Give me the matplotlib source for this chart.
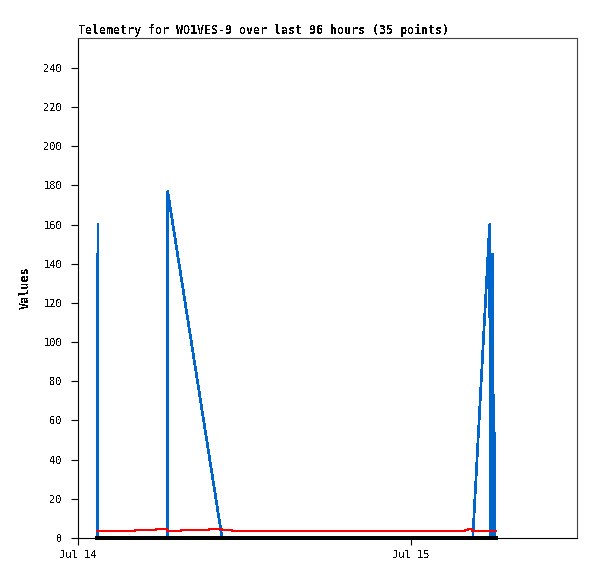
import matplotlib
matplotlib.use('Agg')
import matplotlib.pyplot as plt
import matplotlib.dates as mdates
from datetime import datetime, timedelta

plt.rcParams['font.family'] = ['DejaVu Sans Mono']
plt.rcParams['text.antialiased'] = False

start = datetime(2024, 7, 14)

# hours after Jul 14 00:00
blue_hours = [1.40, 1.40, 1.48, 1.48, 6.50, 6.50, 10.42, 28.49, 29.70,
              29.76, 29.81, 29.86, 29.92, 29.96, 30.02, 30.06, 30.17]
blue_values = [0, 80, 160, 0, 0, 177, 0, 0, 160,
               0, 112, 0, 145, 0, 73, 0, 0]

red_hours = [1.40, 4.15, 5.66, 6.47, 7.46, 9.50, 10.40, 11.12,
             27.94, 28.18, 28.42, 30.17]
red_values = [3.7, 4.2, 4.7, 3.7, 4.2, 4.7, 4.2, 3.7,
              4.2, 4.7, 3.7, 3.7]

black_hours = [1.40, 30.17]
black_values = [0, 0]


def to_dates(hours):
    return [start + timedelta(hours=h) for h in hours]


fig = plt.figure(figsize=(5.97, 5.79), dpi=100)
ax = fig.add_axes([77.5 / 597, 41 / 579, 499.5 / 597, 500 / 579])

ax.plot(to_dates(blue_hours), blue_values, color='#0066cc', linewidth=1.2,
        antialiased=False)
ax.plot(to_dates(red_hours), red_values, color='#ff0000', linewidth=1.2,
        drawstyle='steps-post', antialiased=False)
ax.plot(to_dates(black_hours), black_values, color='black', linewidth=1.5,
        antialiased=False, clip_on=False, zorder=5)

ax.set_xlim(start, start + timedelta(hours=36))
ax.set_ylim(0, 255.3)
ax.set_yticks(range(0, 241, 20))
ax.xaxis.set_major_locator(mdates.DayLocator())
ax.xaxis.set_major_formatter(mdates.DateFormatter('%b %d'))

ax.tick_params(axis='both', direction='out', length=5, width=0.8,
               labelsize=7.5, colors='black')
ax.tick_params(axis='y', pad=6)
ax.tick_params(axis='x', pad=4)

for side in ['top', 'right']:
    ax.spines[side].set_color('#444444')
for side in ['left', 'bottom']:
    ax.spines[side].set_color('black')

ax.set_title('Telemetry for WO1VES-9 over last 96 hours (35 points)',
             loc='left', fontsize=8.4, fontweight='bold', pad=3)
ax.set_ylabel('Values', fontsize=8.5, fontweight='bold')
ax.yaxis.set_label_coords(-0.091, 0.5)

fig.savefig('out.png', dpi=100)
